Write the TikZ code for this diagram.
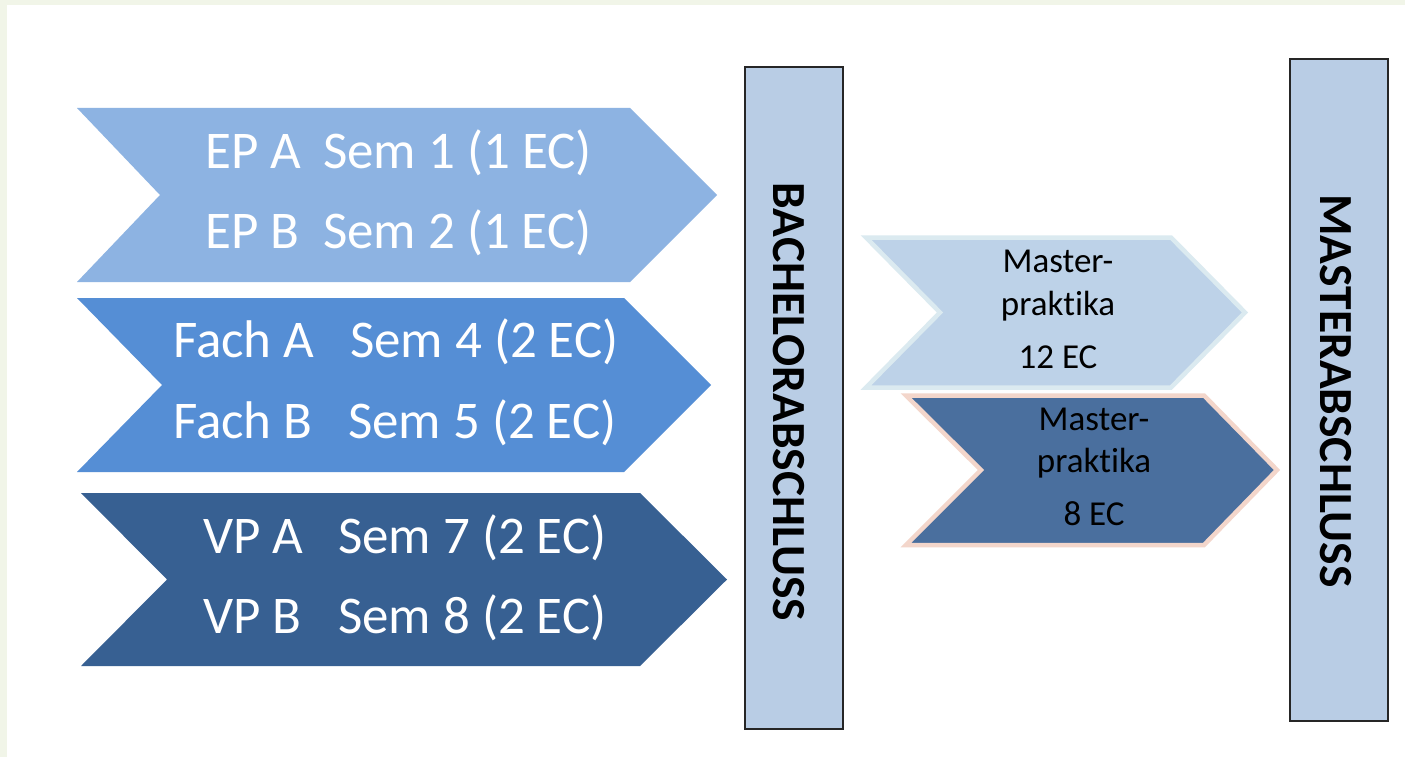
\documentclass[tikz,border=0pt]{standalone}
\usepackage{fontspec}
\setmainfont[RawFeature={-liga;-clig;-calt;-dlig}]{Carlito}
\newcommand{\nolig}{\kern0pt\relax}
\definecolor{bgc}{HTML}{F1F5E8}
\definecolor{epc}{HTML}{8DB3E2}
\definecolor{fachc}{HTML}{558ED5}
\definecolor{vpc}{HTML}{376092}
\definecolor{boxc}{HTML}{B9CDE5}
\definecolor{boxedge}{HTML}{262626}
\definecolor{mafill}{HTML}{BDD2E8}
\definecolor{maedge}{HTML}{DBEAF0}
\definecolor{mbfill}{HTML}{4A6F9E}
\definecolor{mbedge}{HTML}{F3D6CB}
\begin{document}
\begin{tikzpicture}[x=1pt,y=-1pt,
  ptext/.style={font=\fontsize{53}{53}\selectfont, text=white, inner sep=0, anchor=base west},
  mtext/.style={font=\fontsize{35}{35}\selectfont, text=black, inner sep=0, anchor=base},
  boxlabel/.style={font=\fontsize{47.5}{47.5}\selectfont\bfseries, text=black, rotate=-90, inner sep=0},
  endbox/.style={draw=boxedge, line width=2pt, fill=boxc}]
\useasboundingbox (0,0) rectangle (1405,757);
\fill[bgc] (0,0) rectangle (1405,757);
\fill[white] (7,5) rectangle (1405,757);
% main chevrons
\fill[epc] (77,108) -- (630,108) -- (717,195) -- (630,282) -- (77,282) -- (160,195) -- cycle;
\fill[fachc] (77,298) -- (624,298) -- (711,385) -- (624,472) -- (77,472) -- (162,385) -- cycle;
\fill[vpc] (81,493) -- (640,493) -- (727,579.5) -- (640,666) -- (81,666) -- (167,579.5) -- cycle;
% texts
\node[ptext] (epa) at (205,168) {\makebox[118pt][l]{EP A}Sem 1 (1 EC)};
\node[ptext] (epb) at (205,248) {\makebox[118pt][l]{EP B}Sem 2 (1 EC)};
\node[ptext] (fa) at (173,357) {\makebox[177pt][l]{Fach A}Sem 4 (2 EC)};
\node[ptext] (fb) at (173,438) {\makebox[175pt][l]{Fach B}Sem 5 (2 EC)};
\node[ptext] (va) at (203,553) {\makebox[135pt][l]{VP A}Sem 7 (2 EC)};
\node[ptext] (vb) at (203,633) {\makebox[135pt][l]{VP B}Sem 8 (2 EC)};
% end boxes
\draw[endbox] (745,67) rectangle (843,729);
\node[boxlabel] (bach) at (789,402) {BACHELORABSCHLUSS};
\draw[endbox] (1290,59) rectangle (1388,721);
\node[boxlabel] (mast) at (1336,391) {MASTERABSCHLUSS};
% master chevrons
\draw[fill=mafill, draw=maedge, line width=4.5pt, line join=miter]
  (866,237.5) -- (1171,237.5) -- (1245,312.5) -- (1171,387.5) -- (866,387.5) -- (940,312.5) -- cycle;
\draw[fill=mbfill, draw=mbedge, line width=4.5pt, line join=miter]
  (906,395.5) -- (1204,395.5) -- (1277,470) -- (1204,545) -- (906,545) -- (981,470) -- cycle;
\node[mtext] (m1a) at (1058,272) {Master-};
\node[mtext] (m1b) at (1058,315) {prakt\nolig ika};
\node[mtext] (m1c) at (1058,368) {12 EC};
\node[mtext] (m2a) at (1094,430) {Master-};
\node[mtext] (m2b) at (1094,472) {prakt\nolig ika};
\node[mtext] (m2c) at (1094,525) {8 EC};
\end{tikzpicture}
\end{document}
